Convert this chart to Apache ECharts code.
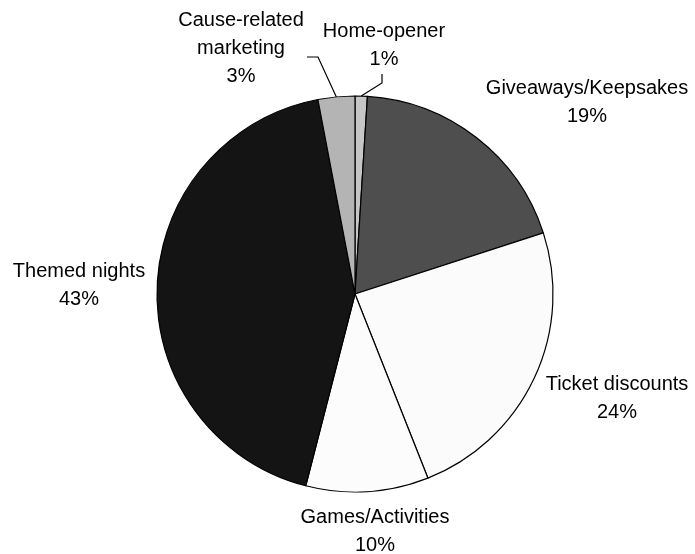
<!DOCTYPE html>
<html>
<head>
<meta charset="utf-8">
<script src="https://cdn.jsdelivr.net/npm/echarts@6/dist/echarts.min.js"></script>
<style>
  html, body { margin: 0; padding: 0; background: #fff; }
  #chart { width: 695px; height: 554px; }
</style>
</head>
<body>
<div id="chart"></div>
<script>
// Promotion types, clockwise from 12 o'clock
const categories = ['Home-opener', 'Giveaways/Keepsakes', 'Ticket discounts', 'Games/Activities', 'Themed nights', 'Cause-related\nmarketing'];
const shares = [1, 19, 24, 10, 43, 3];

// Fill shades per slice
const shades = ['#c6c6c6', '#4e4e4e', '#fbfbfb', '#fcfcfc', '#141414', '#b4b4b4'];

// Label block centres (px) and which labels get a leader line
const labelSpots = [[384, 45], [587, 102], [617, 398], [375, 531], [79, 285], [241, 48]];
const withLeader = [true, false, false, false, false, true];

const chart = echarts.init(document.getElementById('chart'), null, { renderer: 'canvas' });

chart.setOption({
  backgroundColor: '#ffffff',
  animation: false,
  series: [{
    type: 'pie',
    center: [355, 294],
    radius: 198,
    startAngle: 90,
    clockwise: true,
    avoidLabelOverlap: false,
    minShowLabelAngle: 0,
    itemStyle: { borderColor: '#000', borderWidth: 1.2 },
    label: {
      show: true,
      position: 'outside',
      alignTo: 'none',
      formatter: p => p.name + '\n' + p.value + '%',
      fontFamily: 'Liberation Sans, Arial, sans-serif',
      fontSize: 20,
      lineHeight: 28,
      color: '#000'
    },
    labelLine: { show: true, lineStyle: { color: '#000', width: 1.2 }, length: 10, length2: 10 },
    data: categories.map((name, i) => ({
      name: name,
      value: shares[i],
      itemStyle: { color: shades[i] },
      labelLine: { show: withLeader[i] }
    })),
    labelLayout: function (p) {
      const spot = labelSpots[p.dataIndex];
      const out = {
        x: spot[0],
        y: spot[1],
        align: 'center',
        verticalAlign: 'middle',
        hideOverlap: false
      };
      if (withLeader[p.dataIndex] && p.labelLinePoints) {
        const a = p.labelLinePoints[0];
        if (p.dataIndex === 5) {
          // elbow to the right of "marketing"
          out.labelLinePoints = [a, [318, 57], [307, 57]];
        } else {
          // elbow under "1%"
          out.labelLinePoints = [a, [382, 83], [382, 74]];
        }
      }
      return out;
    }
  }]
});
</script>
</body>
</html>
